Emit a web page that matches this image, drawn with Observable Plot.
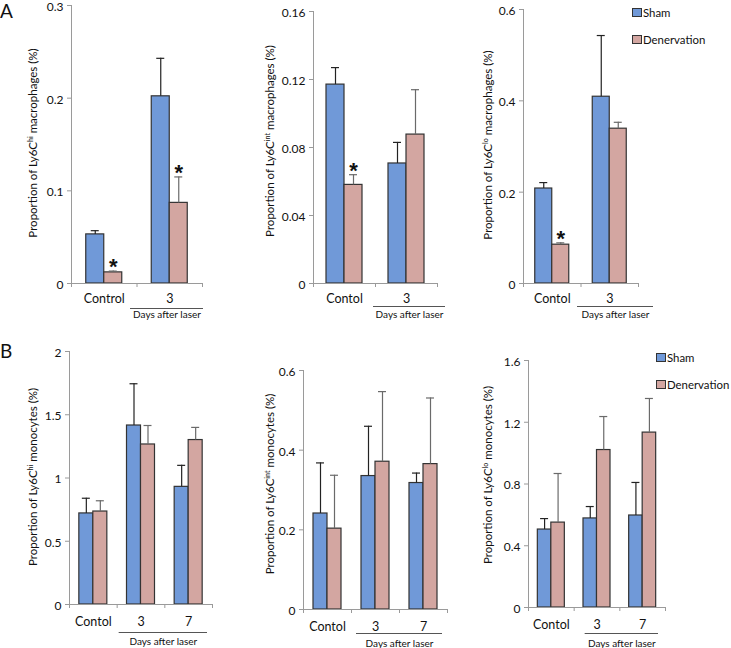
<!DOCTYPE html>
<html><head><meta charset="utf-8">
<script src="https://cdn.jsdelivr.net/npm/d3@7"></script>
<script src="https://cdn.jsdelivr.net/npm/@observablehq/plot@0.6"></script>
<style>
body{margin:0;background:#fff;}
#root{position:relative;width:731px;height:648px;overflow:hidden;font-family:Lato,sans-serif;color:#111;background:#fff;}
.ytitle{position:absolute;transform:translate(-50%,-50%) rotate(-90deg);white-space:nowrap;font-size:11.5px;color:#111;}
.ytitle span{font-size:0.62em;vertical-align:0.55em;}
.letter{position:absolute;font-size:19px;line-height:1;color:#111;}
.lg{position:absolute;white-space:nowrap;font-size:11.4px;line-height:1;transform:translateY(-50%);color:#111;}
.sw{position:absolute;width:8px;height:7px;border:1px solid #333;}
</style></head><body><div id="root"></div>
<script>
// ---------- data ----------
const seriesNames = ["Sham", "Denervation"];
const seriesColors = ["#7099d8", "#d3a6a1"];

// Panel A1: Ly6C hi macrophages
const a1Groups = ["Control", "3"];
const a1Sham = [0.053, 0.202];
const a1ShamErr = [0.004, 0.041];
const a1Den = [0.012, 0.087];
const a1DenErr = [0.0014, 0.028];
const a1Stars = ["Control", "3"];
const a1Ticks = [0, 0.1, 0.2, 0.3];
const a1Title = ["Proportion of Ly6C", "hi", " macrophages (%)"];

// Panel A2: Ly6C int macrophages
const a2Groups = ["Contol", "3"];
const a2Sham = [0.117, 0.0706];
const a2ShamErr = [0.010, 0.0124];
const a2Den = [0.058, 0.0876];
const a2DenErr = [0.006, 0.0264];
const a2Stars = ["Contol"];
const a2Ticks = [0, 0.04, 0.08, 0.12, 0.16];
const a2Title = ["Proportion of Ly6C", "int", " macrophages (%)"];

// Panel A3: Ly6C lo macrophages
const a3Groups = ["Contol", "3"];
const a3Sham = [0.208, 0.409];
const a3ShamErr = [0.013, 0.134];
const a3Den = [0.085, 0.339];
const a3DenErr = [0.004, 0.014];
const a3Stars = ["Contol"];
const a3Ticks = [0, 0.2, 0.4, 0.6];
const a3Title = ["Proportion of Ly6C", "lo", " macrophages (%)"];

// Panel B1: Ly6C hi monocytes
const b1Groups = ["Contol", "3", "7"];
const b1Sham = [0.72, 1.415, 0.93];
const b1ShamErr = [0.12, 0.33, 0.17];
const b1Den = [0.735, 1.265, 1.30];
const b1DenErr = [0.085, 0.15, 0.10];
const b1Ticks = [0, 0.5, 1, 1.5, 2];
const b1Title = ["Proportion of Ly6C", "hi", " monocytes (%)"];

// Panel B2: Ly6C int monocytes
const b2Groups = ["Contol", "3", "7"];
const b2Sham = [0.241, 0.335, 0.3175];
const b2ShamErr = [0.127, 0.125, 0.025];
const b2Den = [0.203, 0.371, 0.365];
const b2DenErr = [0.134, 0.176, 0.166];
const b2Ticks = [0, 0.2, 0.4, 0.6];
const b2Title = ["Proportion of Ly6C", "int", " monocytes (%)"];

// Panel B3: Ly6C lo monocytes
const b3Groups = ["Contol", "3", "7"];
const b3Sham = [0.505, 0.577, 0.596];
const b3ShamErr = [0.071, 0.077, 0.214];
const b3Den = [0.55, 1.02, 1.133];
const b3DenErr = [0.318, 0.217, 0.221];
const b3Ticks = [0, 0.4, 0.8, 1.2, 1.6];
const b3Title = ["Proportion of Ly6C", "lo", " monocytes (%)"];

const daysLabel = "Days after laser";
const panelLetters = ["A", "B"];

// ---------- layout (pixels) ----------
const panels = [
  {groups:a1Groups, sham:a1Sham, shamErr:a1ShamErr, den:a1Den, denErr:a1DenErr, stars:a1Stars, ticks:a1Ticks, title:a1Title,
   axisX:71, end:202, y0:283, yTop:5, barW:18, padX:10.5, ulDy:25, txtDy:31, ul:[-6.5,-1], tpos:[32,143]},
  {groups:a2Groups, sham:a2Sham, shamErr:a2ShamErr, den:a2Den, denErr:a2DenErr, stars:a2Stars, ticks:a2Ticks, title:a2Title,
   axisX:313, end:437, y0:283, yTop:11, barW:18, padX:10.5, ulDy:23, txtDy:31, ul:[-2,-8], tpos:[269,141]},
  {groups:a3Groups, sham:a3Sham, shamErr:a3ShamErr, den:a3Den, denErr:a3DenErr, stars:a3Stars, ticks:a3Ticks, title:a3Title,
   axisX:523, end:638, y0:283, yTop:9, barW:17, padX:10.5, ulDy:23, txtDy:31, ul:[-3.5,-15], tpos:[487,145]},
  {groups:b1Groups, sham:b1Sham, shamErr:b1ShamErr, den:b1Den, denErr:b1DenErr, stars:[], ticks:b1Ticks, title:b1Title,
   axisX:69, end:212, y0:604, yTop:351, barW:14, padX:13, ulDy:28, txtDy:37, ul:[2,5], tpos:[32,477]},
  {groups:b2Groups, sham:b2Sham, shamErr:b2ShamErr, den:b2Den, denErr:b2DenErr, stars:[], ticks:b2Ticks, title:b2Title,
   axisX:303, end:447, y0:609, yTop:370, barW:14, padX:13, ulDy:24, txtDy:34, ul:[5,5], tpos:[269,484]},
  {groups:b3Groups, sham:b3Sham, shamErr:b3ShamErr, den:b3Den, denErr:b3DenErr, stars:[], ticks:b3Ticks, title:b3Title,
   axisX:528, end:665, y0:607, yTop:360, barW:13.5, padX:13, ulDy:26, txtDy:36, ul:[11,7], tpos:[487,475]}
];
const legends = [{x:632, y:8}, {x:656, y:353}];
const letterPos = [{x:0, y:1}, {x:0, y:341}];

const root = document.getElementById("root");
const axisGray = "#9a9a9a";
const ML = 48, MT = 12, MB = 46, MR = 30;

panels.forEach(p => {
  const n = p.groups.length;
  const plotW = p.end - p.axisX;
  const bw = plotW / n;
  const ymax = p.ticks[p.ticks.length - 1];
  const rows = p.groups.flatMap((g, i) => [
    {group: g, series: seriesNames[0], value: p.sham[i], err: p.shamErr[i]},
    {group: g, series: seriesNames[1], value: p.den[i], err: p.denErr[i]}
  ]);
  const shamRows = rows.filter(d => d.series === seriesNames[0]);
  const denRows = rows.filter(d => d.series === seriesNames[1]);
  const starRows = denRows.filter(d => p.stars.includes(d.group));
  const last = p.groups[n - 1];
  const first = p.groups[0];
  const textDx = ((n - 2) * bw + p.ul[0] - p.ul[1]) / 2;

  const svg = Plot.plot({
    width: ML + plotW + MR,
    height: MT + (p.y0 - p.yTop) + MB,
    marginLeft: ML, marginRight: MR, marginTop: MT, marginBottom: MB,
    style: {fontFamily: "Lato, sans-serif", fontSize: "12.5px", color: "#111", background: "transparent", overflow: "visible"},
    x: {domain: p.groups, padding: 0, round: false, label: null, axis: null},
    y: {domain: [0, ymax], nice: false, label: null, axis: null},
    marks: [
      Plot.barY(shamRows, {x: "group", y: "value", fill: seriesColors[0], stroke: "#333", strokeWidth: 1.2,
        insetLeft: bw / 2 - p.barW, insetRight: bw / 2}),
      Plot.barY(denRows, {x: "group", y: "value", fill: seriesColors[1], stroke: "#333", strokeWidth: 1.2,
        insetLeft: bw / 2, insetRight: bw / 2 - p.barW}),
      Plot.ruleX(shamRows, {x: "group", y1: "value", y2: d => d.value + d.err, dx: -p.barW / 2, stroke: "#222", strokeWidth: 1.2}),
      Plot.ruleX(denRows, {x: "group", y1: "value", y2: d => d.value + d.err, dx: p.barW / 2, stroke: "#6a6a6a", strokeWidth: 1.2}),
      Plot.tickY(shamRows, {x: "group", y: d => d.value + d.err, stroke: "#222", strokeWidth: 1.2,
        insetLeft: bw / 2 - p.barW / 2 - 4, insetRight: bw / 2 + p.barW / 2 - 4}),
      Plot.tickY(denRows, {x: "group", y: d => d.value + d.err, stroke: "#6a6a6a", strokeWidth: 1.2,
        insetLeft: bw / 2 + p.barW / 2 - 4, insetRight: bw / 2 - p.barW / 2 - 4}),
      Plot.text(starRows, {x: "group", y: d => d.value + d.err, text: () => "*", dx: p.barW / 2, dy: -4,
        fontSize: 22, fontWeight: "bold", fontFamily: "Liberation Sans, sans-serif", lineAnchor: "middle", fill: "#111"}),
      Plot.ruleY([0], {stroke: axisGray}),
      Plot.ruleX([first], {x: d => d, dx: -bw / 2, stroke: axisGray}),
      Plot.axisY({ticks: p.ticks, tickSize: 4, tickFormat: () => "", stroke: axisGray}),
      Plot.axisY({ticks: p.ticks, tickSize: 0, tickPadding: 8, tickFormat: d => String(d), fill: "#111", fontSize: 12, dy: 1.5}),
      Plot.axisX({ticks: p.groups, tickSize: 4, tickFormat: () => "", dx: -bw / 2, stroke: axisGray}),
      Plot.axisX({ticks: [last], tickSize: 4, tickFormat: () => "", dx: bw / 2, stroke: axisGray}),
      Plot.axisX({ticks: p.groups, tickSize: 0, tickPadding: p.padX, fill: "#111", fontSize: 12.5}),
      Plot.ruleY([0], {x1: () => p.groups[1], x2: () => last, dy: p.ulDy, insetLeft: p.ul[0], insetRight: p.ul[1], stroke: "#555"}),
      Plot.text([0], {x: () => p.groups[1], y: () => 0, text: () => daysLabel, dx: textDx, dy: p.txtDy,
        fontSize: 10, lineAnchor: "middle", fill: "#111"})
    ]
  });
  svg.style.position = "absolute";
  svg.style.left = (p.axisX - ML) + "px";
  svg.style.top = (p.yTop - MT) + "px";
  svg.style.maxWidth = "none";
  root.appendChild(svg);

  const t = document.createElement("div");
  t.className = "ytitle";
  t.style.left = p.tpos[0] + "px";
  t.style.top = p.tpos[1] + "px";
  t.append(p.title[0]);
  const sup = document.createElement("span");
  sup.textContent = p.title[1];
  t.append(sup, p.title[2]);
  root.appendChild(t);
});

legends.forEach(l => {
  seriesNames.forEach((s, i) => {
    const sw = document.createElement("div");
    sw.className = "sw";
    sw.style.left = l.x + "px";
    sw.style.top = (l.y + i * 27) + "px";
    sw.style.background = seriesColors[i];
    root.appendChild(sw);
    const tx = document.createElement("div");
    tx.className = "lg";
    tx.style.left = (l.x + 11) + "px";
    tx.style.top = (l.y + 5 + i * 27) + "px";
    tx.textContent = s;
    root.appendChild(tx);
  });
});

panelLetters.forEach((L, i) => {
  const d = document.createElement("div");
  d.className = "letter";
  d.style.left = letterPos[i].x + "px";
  d.style.top = letterPos[i].y + "px";
  d.textContent = L;
  root.appendChild(d);
});
</script></body></html>
